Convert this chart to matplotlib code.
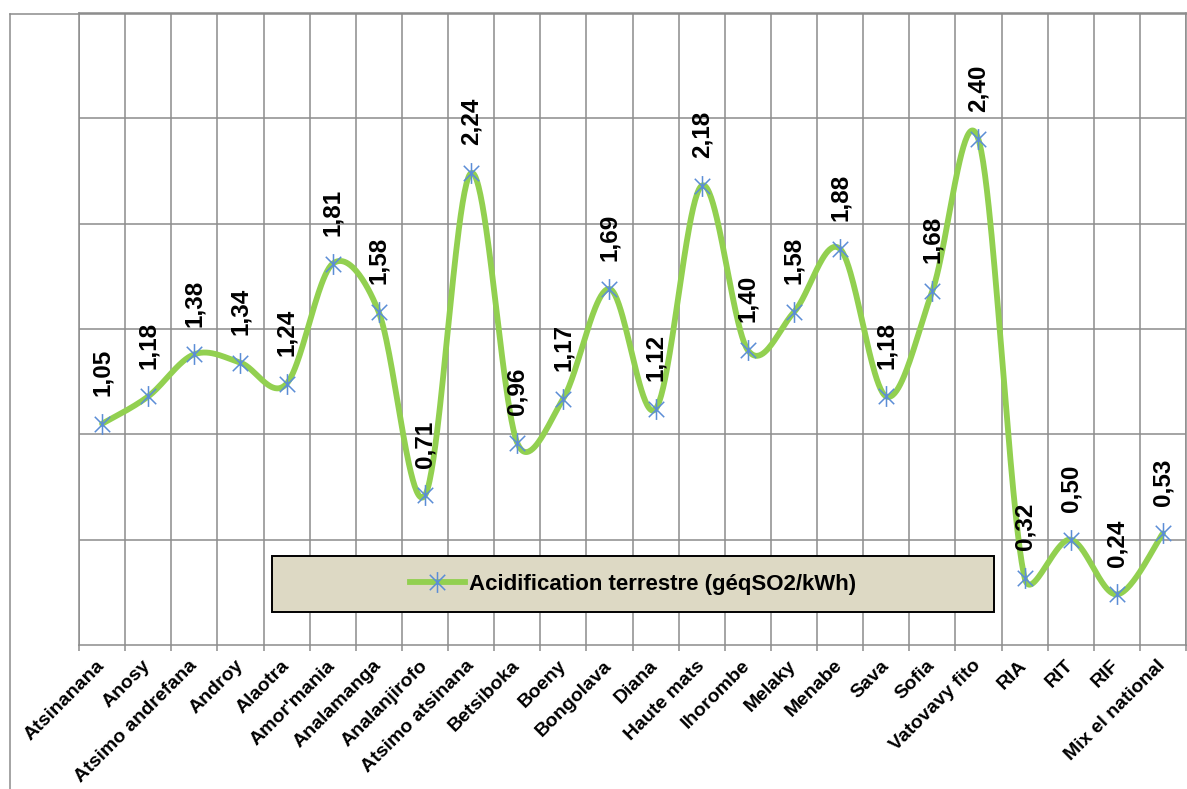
import numpy as np
import matplotlib
matplotlib.use("Agg")
import matplotlib.pyplot as plt
from matplotlib.path import Path
from matplotlib.patches import Rectangle
from matplotlib.lines import Line2D

# ---- data -------------------------------------------------------------
regions = [
    "Atsinanana", "Anosy", "Atsimo andrefana", "Androy", "Alaotra",
    "Amor'mania", "Analamanga", "Analanjirofo", "Atsimo atsinana",
    "Betsiboka", "Boeny", "Bongolava", "Diana", "Haute mats", "Ihorombe",
    "Melaky", "Menabe", "Sava", "Sofia", "Vatovavy fito", "RIA", "RIT",
    "RIF", "Mix el national",
]
acidification = [
    1.05, 1.18, 1.38, 1.34, 1.24, 1.81, 1.58, 0.71, 2.24, 0.96, 1.17, 1.69,
    1.12, 2.18, 1.40, 1.58, 1.88, 1.18, 1.68, 2.40, 0.32, 0.50, 0.24, 0.53,
]
series_name = "Acidification terrestre (géqSO2/kWh)"
value_labels = [f"{v:.2f}".replace(".", ",") for v in acidification]

# ---- style ------------------------------------------------------------
plt.rcParams["font.family"] = ["Liberation Sans", "DejaVu Sans"]
GRID = "#8C8C8C"
LINE_GREEN = "#92D050"
STAR_BLUE = "#5B8DD6"
LEGEND_FILL = "#DDD9C4"

W, H = 1187, 789
fig = plt.figure(figsize=(W / 100, H / 100), dpi=100)
ax = fig.add_axes([79 / W, (H - 645) / H, 1107 / W, 632 / H])

n = len(regions)
xs = np.arange(n) + 0.5
ys = np.array(acidification)
ax.set_xlim(0, n)
ax.set_ylim(0, 3)


def smooth_curve(px):
    """Bezier smoothing in display space; control arms are capped at half
    the length of the neighbouring segment so short hops don't overshoot."""
    m = len(px)
    ctrl_in = np.zeros_like(px)
    ctrl_out = np.zeros_like(px)
    for i in range(m):
        prev_p = px[i - 1] if i > 0 else px[i]
        next_p = px[i + 1] if i < m - 1 else px[i]
        tan = next_p - prev_p
        d02 = np.hypot(*tan)
        d01 = np.hypot(*(px[i] - prev_p))
        d12 = np.hypot(*(next_p - px[i]))
        f_in = f_out = 1.0 / 6.0
        if d02 > 0:
            if f_out * d02 > d12 / 2:
                f_out = d12 / (2 * d02)
            if f_in * d02 > d01 / 2:
                f_in = d01 / (2 * d02)
        ctrl_out[i] = px[i] + f_out * tan
        ctrl_in[i] = px[i] - f_in * tan
    t = np.linspace(0, 1, 50)[:, None]
    segs = []
    for i in range(m - 1):
        p1, c1, c2, p2 = px[i], ctrl_out[i], ctrl_in[i + 1], px[i + 1]
        seg = ((1 - t) ** 3) * p1 + 3 * ((1 - t) ** 2) * t * c1 \
            + 3 * (1 - t) * t ** 2 * c2 + t ** 3 * p2
        segs.append(seg if i == 0 else seg[1:])
    return np.vstack(segs)


# six-armed star marker (X plus vertical bar)
star = Path(
    [(-1, -1), (1, 1), (-1, 1), (1, -1), (0, -1.35), (0, 1.35)],
    [Path.MOVETO, Path.LINETO, Path.MOVETO, Path.LINETO, Path.MOVETO, Path.LINETO],
)

disp = ax.transData.transform(np.column_stack([xs, ys]))
curve = ax.transData.inverted().transform(smooth_curve(disp))
ax.plot(curve[:, 0], curve[:, 1], color=LINE_GREEN, lw=4.2,
        solid_capstyle="round", solid_joinstyle="round", zorder=3)
ax.plot(xs, ys, ls="none", marker=star, ms=15, mew=1.1, mec=STAR_BLUE,
        mfc="none", zorder=4)

for x, y, lab in zip(xs, ys, value_labels):
    ax.annotate(lab, (x, y), xytext=(0, 20), textcoords="offset points",
                rotation=90, ha="center", va="bottom", fontsize=17.5,
                fontweight="bold", color="black", zorder=5)

# ---- axes -------------------------------------------------------------
ax.set_yticks(np.arange(0.5, 3.01, 0.5))
ax.set_yticklabels([])
ax.tick_params(axis="y", length=0)

ax.set_xticks(np.arange(0, n + 1))
ax.set_xticklabels([])
ax.tick_params(axis="x", which="major", direction="out", length=4.5,
               width=1.1, color=GRID)
ax.set_xticks(xs, regions, minor=True)
ax.tick_params(axis="x", which="minor", length=0, pad=13)
for lbl in ax.get_xticklabels(minor=True):
    lbl.set_rotation(45)
    lbl.set_ha("right")
    lbl.set_va("center")
    lbl.set_rotation_mode("anchor")
    lbl.set_fontsize(14)
    lbl.set_fontweight("bold")

ax.grid(True, which="major", color=GRID, lw=1.1)
ax.set_axisbelow(True)
for sp in ax.spines.values():
    sp.set_color(GRID)
    sp.set_linewidth(1.1)

# ---- legend -----------------------------------------------------------
box = Rectangle((0.1743, 0.0522), 0.8266 - 0.1743, 0.1408 - 0.0522,
                transform=ax.transAxes, facecolor=LEGEND_FILL,
                edgecolor="black", lw=1.4, zorder=2.5)
ax.add_patch(box)
handle = Line2D([], [], color=LINE_GREEN, lw=4.2, marker=star, ms=15,
                mew=1.1, mec=STAR_BLUE, mfc="none")
leg = ax.legend([handle], [series_name], loc="center",
                bbox_to_anchor=((0.1743 + 0.8266) / 2, (0.0522 + 0.1408) / 2),
                frameon=False, handlelength=2.5, handletextpad=0.18,
                prop={"size": 16, "weight": "bold"})
leg.set_zorder(6)

# ---- outer chart frame ------------------------------------------------
fig.add_artist(Line2D([10 / W, 10 / W], [0, (H - 14) / H],
                      transform=fig.transFigure, color=GRID, lw=1.1))
fig.add_artist(Line2D([10 / W, 1.0], [(H - 14) / H, (H - 14) / H],
                      transform=fig.transFigure, color=GRID, lw=1.1))

fig.savefig("out.png", dpi=100, facecolor="white")
